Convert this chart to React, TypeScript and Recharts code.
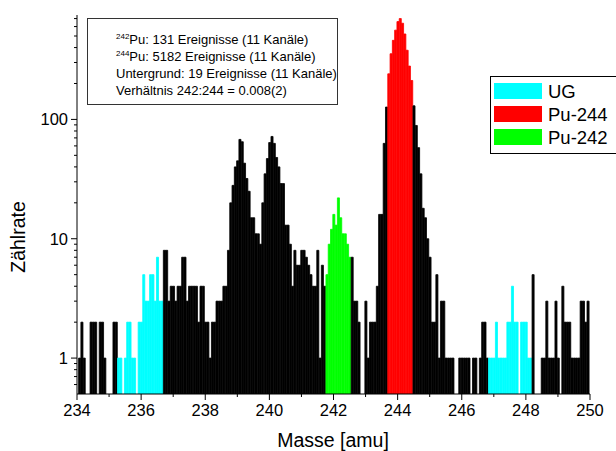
import React from "react";
import { BarChart, Bar, XAxis, YAxis, Cell } from "recharts";

// Histogramm: Kanalbreite 1/14 amu, erster Kanal beginnt bei 234.05
const binStart = 234.05;
const binWidth = 1 / 14;

const lowBlack = [1, 2, 1, 0, 0, 2, 2, 2, 0, 2, 2, 1, 0, 0, 0, 2, 2];
const ugLeft = [1, 1, 0, 1, 2, 2, 1, 1, 0, 2, 2, 5, 3, 3, 5, 5, 3, 7, 3, 3];
const doublePeak = [
  8, 8, 3, 4, 4, 3, 4, 4, 7, 7, 3, 4, 4, 4, 4, 2, 4, 4, 2, 2, 1, 2, 2, 3, 3, 3, 4, 4, 8,
  20, 28, 40, 45, 68, 65, 43, 32, 25, 15, 15, 11, 11, 9, 20, 35, 47, 64, 72, 63, 48, 40,
  29, 29, 13, 13, 9, 4, 8, 6, 6, 8, 8, 7, 6, 5, 4, 4, 8, 1, 6, 4,
];
const pu242 = [5, 9, 12, 16, 13, 22, 15, 11, 11, 9, 7];
const valley = [7, 3, 3, 2, 0, 0, 3, 1, 2, 2, 2, 4, 16, 16, 63, 127];
const pu244 = [241, 355, 460, 560, 660, 700, 640, 520, 380, 280, 212];
const tail = [
  130, 89, 58, 35, 18, 15, 10, 7, 2, 2, 5, 1, 3, 3, 1, 1, 1, 1, 0, 0, 1, 1, 1, 1, 1, 0,
  1, 1, 0, 1, 2, 2, 1,
];
const ugRight = [1, 1, 1, 2, 1, 1, 1, 1, 2, 2, 4, 2, 2, 0, 2, 2, 2, 1, 1];
const highBlack = [5, 0, 0, 0, 1, 1, 3, 1, 1, 1, 3, 1, 0, 4, 2, 2, 2, 1, 1, 1, 1, 3, 3, 2, 3];

const xTicks = [234, 235, 236, 237, 238, 239, 240, 241, 242, 243, 244, 245, 246, 247, 248, 249, 250];
const yTicks = [
  0.6, 0.7, 0.8, 0.9, 1, 2, 3, 4, 5, 6, 7, 8, 9, 10, 20, 30, 40, 50, 60, 70, 80, 90, 100,
  200, 300, 400, 500, 600, 700,
];
const yLabels = [1, 10, 100];

const BLACK = "#000000";
const CYAN = "#00ffff";
const RED = "#ff0000";
const GREEN = "#00ff00";

const segments = [
  { counts: lowBlack, color: BLACK },
  { counts: ugLeft, color: CYAN },
  { counts: doublePeak, color: BLACK },
  { counts: pu242, color: GREEN },
  { counts: valley, color: BLACK },
  { counts: pu244, color: RED },
  { counts: tail, color: BLACK },
  { counts: ugRight, color: CYAN },
  { counts: highBlack, color: BLACK },
];

const histData: { mass: number; count: number | null; color: string }[] = [];
segments.forEach((seg) => {
  seg.counts.forEach((c) => {
    const i = histData.length;
    histData.push({
      mass: binStart + (i + 0.5) * binWidth,
      count: c > 0 ? c : null,
      color: seg.color,
    });
  });
});

const legendItems = [
  { name: "UG", color: CYAN },
  { name: "Pu-244", color: RED },
  { name: "Pu-242", color: GREEN },
];

const FONT = "'Liberation Sans', Arial, Helvetica, sans-serif";

function XTick(props: any) {
  const { x, y, payload } = props;
  const axisY = y - 8;
  const major = payload.value % 2 === 0;
  return (
    <g>
      <line x1={x} x2={x} y1={axisY} y2={axisY + (major ? 6 : 3)} stroke="#000" />
      {major && (
        <text x={x} y={axisY + 22} textAnchor="middle" fontSize={16.5} fill="#000" fontFamily={FONT}>
          {payload.value}
        </text>
      )}
    </g>
  );
}

function YTick(props: any) {
  const { x, y, payload } = props;
  const axisX = x + 8;
  const major = yLabels.includes(payload.value);
  return (
    <g>
      <line x1={axisX - (major ? 6 : 3)} x2={axisX} y1={y} y2={y} stroke="#000" />
      {major && (
        <text x={axisX - 9} y={y + 6} textAnchor="end" fontSize={16.5} fill="#000" fontFamily={FONT}>
          {payload.value}
        </text>
      )}
    </g>
  );
}

export default function App() {
  return (
    <div
      style={{
        position: "absolute",
        left: 0,
        top: 0,
        width: 616,
        height: 451,
        background: "#fff",
        fontFamily: FONT,
      }}
    >
      <BarChart
        width={616}
        height={451}
        data={histData}
        margin={{ top: 15, right: 26, bottom: 12, left: 27 }}
        barCategoryGap={0}
        barGap={0}
      >
        <XAxis
          type="number"
          dataKey="mass"
          domain={[234, 250]}
          ticks={xTicks}
          interval={0}
          allowDataOverflow
          height={45}
          axisLine={{ stroke: "#000" }}
          tickLine={false}
          tickSize={6}
          tickMargin={2}
          tick={(p: any) => <XTick {...p} />}
        />
        <YAxis
          type="number"
          scale="log"
          domain={[0.5, 750]}
          ticks={yTicks}
          interval={0}
          allowDataOverflow
          width={50}
          axisLine={{ stroke: "#000" }}
          tickLine={false}
          tickSize={6}
          tickMargin={2}
          tick={(p: any) => <YTick {...p} />}
        />
        <Bar dataKey="count" barSize={2.3} isAnimationActive={false}>
          {histData.map((d, i) => (
            <Cell key={`bin-${i}`} fill={d.color} stroke={d.color} strokeWidth={0.8} />
          ))}
        </Bar>
      </BarChart>

      <svg
        width={616}
        height={451}
        style={{ position: "absolute", left: 0, top: 0, pointerEvents: "none" }}
        fontFamily={FONT}
      >
        <text x={25} y={237} fontSize={19.5} textAnchor="middle" transform="rotate(-90 25 237)">
          Zählrate
        </text>
        <text x={333} y={447} fontSize={19.5} textAnchor="middle">
          Masse [amu]
        </text>

        <rect x={87.5} y={18.5} width={250} height={86} fill="#fff" stroke="#333" />
        <text x={116} y={44} fontSize={13}>
          <tspan fontSize={8} dy={-5}>242</tspan>
          <tspan dy={5}>Pu: 131 Ereignisse (11 Kanäle)</tspan>
        </text>
        <text x={116} y={61} fontSize={13}>
          <tspan fontSize={8} dy={-5}>244</tspan>
          <tspan dy={5}>Pu: 5182 Ereignisse (11 Kanäle)</tspan>
        </text>
        <text x={116} y={78} fontSize={13}>
          Untergrund: 19 Ereignisse (11 Kanäle)
        </text>
        <text x={116} y={95} fontSize={13}>
          Verhältnis 242:244 = 0.008(2)
        </text>

        <rect x={490.5} y={76.5} width={140} height={77} fill="#fff" stroke="#000" />
        {legendItems.map((item, i) => (
          <g key={item.name}>
            <rect x={494} y={83 + i * 23} width={48} height={16} fill={item.color} />
            <text x={548} y={97.5 + i * 23} fontSize={18.5}>
              {item.name}
            </text>
          </g>
        ))}
      </svg>
    </div>
  );
}
